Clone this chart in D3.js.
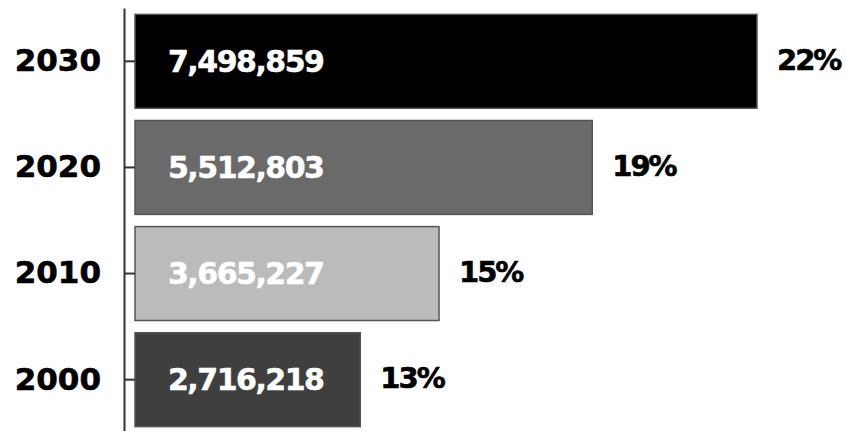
<!DOCTYPE html>
<html>
<head>
<meta charset="utf-8">
<script src="https://cdn.jsdelivr.net/npm/d3@7"></script>
<style>
  html, body { margin: 0; padding: 0; background: #fff; }
  svg { display: block; }
  .lbl { font-family: "DejaVu Sans", sans-serif; font-weight: bold; }
</style>
</head>
<body>
<svg id="chart" width="846" height="431"></svg>
<script>
// Population by year, with share of total
const years = ["2030", "2020", "2010", "2000"];
const population = [7498859, 5512803, 3665227, 2716218];
const shares = ["22%", "19%", "15%", "13%"];
const fills = ["#000000", "#6a6a6a", "#bbbbbb", "#3f3f3f"];

const width = 846, height = 431;
const svg = d3.select("#chart");

const rows = years.map((y, i) => ({ year: y, value: population[i], share: shares[i], fill: fills[i] }));

const axisX = 124;
const x = d3.scaleLinear()
  .domain([0, d3.max(population)])
  .range([135, 757]);

const y = d3.scaleBand()
  .domain(years)
  .range([8, 433])
  .paddingInner(0.115)
  .paddingOuter(0.06);

// bars
svg.append("g").selectAll("rect")
  .data(rows)
  .join("rect")
  .attr("x", x(0))
  .attr("y", d => y(d.year))
  .attr("width", d => x(d.value) - x(0))
  .attr("height", y.bandwidth())
  .attr("fill", d => d.fill)
  .attr("stroke", "#555")
  .attr("stroke-width", 1.5);

// category axis with ticks pointing into the bars
const axis = svg.append("g")
  .attr("transform", `translate(${axisX},0)`)
  .call(d3.axisLeft(y).tickSizeInner(-11).tickSizeOuter(0).tickPadding(23));
axis.select(".domain").attr("stroke", "#333").attr("stroke-width", 2);
axis.selectAll(".tick line").attr("stroke", "#333").attr("stroke-width", 2);
axis.selectAll(".tick text")
  .attr("class", "lbl")
  .attr("font-size", 31)
  .attr("fill", "#000")
  .attr("stroke", "#000")
  .attr("stroke-width", 0.6);

// values inside the bars
svg.append("g").selectAll("text")
  .data(rows)
  .join("text")
  .attr("class", "lbl")
  .attr("x", x(0) + 33)
  .attr("y", d => y(d.year) + y.bandwidth() / 2)
  .attr("dy", "0.36em")
  .attr("font-size", 30)
  .attr("letter-spacing", -1.5)
  .attr("fill", "#fff")
  .attr("stroke", "#fff")
  .attr("stroke-width", 0.5)
  .text(d => d3.format(",")(d.value));

// shares beside the bars
svg.append("g").selectAll("text")
  .data(rows)
  .join("text")
  .attr("class", "lbl")
  .attr("x", d => x(d.value) + 20)
  .attr("y", d => y(d.year) + y.bandwidth() / 2)
  .attr("dy", "0.3em")
  .attr("font-size", 29)
  .attr("letter-spacing", -2)
  .attr("fill", "#000")
  .attr("stroke", "#000")
  .attr("stroke-width", 0.6)
  .text(d => d.share);
</script>
</body>
</html>
